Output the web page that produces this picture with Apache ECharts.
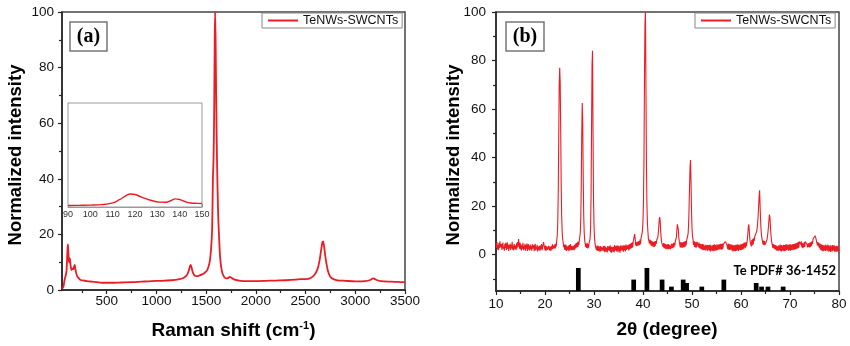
<!DOCTYPE html>
<html>
<head>
<meta charset="utf-8">
<script src="https://cdn.jsdelivr.net/npm/echarts@6/dist/echarts.min.js"></script>
<style>
  html, body { margin: 0; padding: 0; background: #fff; }
  #chart { width: 850px; height: 346px; }
</style>
</head>
<body>
<div id="chart"></div>
<script>
// ---------- (a) Raman spectrum ----------
const ramanShift = [
  50, 58, 65, 75, 88, 96, 102, 107, 110, 114, 118, 122, 128, 134, 140, 146, 155, 165, 172, 178,
  185, 195, 205, 220, 238, 270, 300, 350, 400, 450, 550, 650, 750, 850, 950, 1050, 1150, 1220, 1270, 1305,
  1325, 1338, 1345, 1355, 1370, 1385, 1400, 1430, 1460, 1480, 1505, 1520, 1535, 1550, 1560, 1568, 1574, 1580, 1586, 1590,
  1595, 1602, 1610, 1620, 1630, 1640, 1650, 1662, 1680, 1700, 1720, 1737, 1755, 1780, 1830, 1900, 2000, 2100, 2200, 2300,
  2400, 2452, 2500, 2550, 2590, 2620, 2640, 2655, 2668, 2676, 2685, 2697, 2710, 2725, 2745, 2770, 2820, 2900, 3000, 3100,
  3150, 3180, 3190, 3215, 3260, 3350, 3430, 3500
];
const ramanIntensity = [
  0.4, 0.8, 1.2, 3.5, 5.4, 7, 12, 15.5, 16.4, 13.5, 11, 10, 11.5, 9.5, 8, 7.2, 7.8, 7.5, 8.5, 9.0,
  7.4, 5.8, 4.8, 4.2, 3.6, 3.4, 3.2, 3.0, 2.8, 2.6, 2.6, 2.7, 2.8, 3.0, 3.2, 3.3, 3.5, 3.8, 4.3, 5.3,
  7, 8.6, 9.0, 7.8, 6.0, 5.2, 5.0, 5.2, 5.6, 6.0, 6.8, 8, 10, 15, 22, 40, 47, 62, 90, 100,
  90, 65, 45, 28, 19, 12, 8.5, 6.2, 4.8, 4.2, 4.3, 4.7, 4.4, 3.8, 3.4, 3.2, 3.2, 3.3, 3.4, 3.5,
  3.7, 3.9, 3.9, 4.3, 5.5, 7.5, 10.5, 14, 17, 17.5, 16, 12.5, 9.5, 6.8, 5.0, 4.1, 3.5, 3.3, 3.1, 3.2,
  3.6, 4.2, 4.1, 3.6, 3.2, 3.0, 2.9, 2.8
];
const ramanMajorTicks = [500, 1000, 1500, 2000, 2500, 3000, 3500];
const ramanMinorTicks = [250, 750, 1250, 1750, 2250, 2750, 3250];

// inset: low-wavenumber region
const insetShift = [90, 95, 100, 105, 110, 113, 116, 118, 120, 123, 127, 131, 134, 136, 138, 140, 142, 145, 148, 150];
const insetIntensity = [1.5, 1.6, 1.8, 2.3, 4.0, 7.0, 11.0, 12.5, 12.0, 9.5, 6.5, 4.7, 4.6, 6.0, 7.8, 7.2, 5.5, 3.8, 3.5, 3.4];

// ---------- (b) XRD pattern, one reading every 0.1 degree from 10 to 80 ----------
const xrdStart = 10;
const xrdStep = 0.1;
const xrdIntensity = [
  4.6, 2.8, 5.2, 2.1, 3.9, 1.8, 4.8, 2.6, 5.5, 3.0,
  2.2, 4.4, 1.9, 3.7, 5.0, 2.4, 3.3, 1.6, 4.5, 2.7,
  4.9, 1.8, 3.4, 5.1, 2.3, 4.2, 1.5, 3.9, 2.6, 4.6,
  1.9, 4.0, 2.5, 5.3, 2.0, 3.6, 1.7, 4.4, 5.0, 2.2,
  3.8, 1.9, 4.7, 2.6, 5.2, 3.3, 6.4, 4.1, 2.4, 5.0,
  2.1, 4.2, 1.7, 3.8, 2.5, 4.9, 1.8, 3.5, 2.3, 4.5,
  1.6, 3.9, 2.4, 4.6, 1.5, 3.2, 4.4, 2.0, 3.6, 1.7,
  4.1, 2.2, 3.5, 1.6, 4.3, 2.5, 1.8, 3.9, 1.4, 3.3,
  4.5, 1.7, 3.2, 2.1, 4.0, 1.3, 3.4, 4.2, 1.9, 3.6,
  1.6, 3.8, 2.2, 4.4, 1.8, 3.1, 4.0, 5.2, 5.6, 2.9,
  1.8, 3.7, 1.5, 3.4, 4.2, 2.0, 1.4, 3.6, 4.0, 1.7,
  3.3, 4.1, 1.5, 3.5, 2.1, 4.3, 2.4, 1.6, 3.8, 2.6,
  4.2, 2.5, 4.6, 3.4, 6.0, 7.8, 13, 25, 47, 70,
  77, 71, 52, 30, 16, 9.5, 6.4, 5.2, 3.1, 4.0,
  2.0, 4.3, 1.8, 3.9, 1.5, 3.4, 4.1, 1.9, 3.7, 1.4,
  3.9, 2.0, 4.4, 1.7, 3.5, 4.2, 1.9, 3.6, 4.3, 1.8,
  3.9, 2.1, 4.5, 2.6, 4.8, 3.0, 5.1, 3.2, 5.4, 3.9,
  5.6, 6.2, 9.0, 15, 28, 50, 62.5, 54, 32, 16,
  9.2, 5.8, 5.2, 3.2, 4.6, 2.8, 4.9, 2.5, 4.3, 2.9,
  4.8, 4.0, 6.5, 11, 24, 52, 78, 84, 50, 24,
  12, 7.0, 4.6, 3.5, 4.1, 1.9, 3.6, 1.6, 3.7, 1.5,
  3.4, 2.4, 1.2, 3.5, 1.4, 3.2, 3.9, 1.6, 1.1, 3.5,
  1.4, 3.6, 1.0, 3.3, 3.8, 1.2, 2.9, 0.9, 3.5, 1.7,
  0.9, 3.4, 1.5, 3.8, 1.0, 3.1, 0.8, 3.3, 3.7, 1.2,
  3.2, 0.9, 3.9, 1.6, 0.8, 3.5, 1.3, 3.8, 2.9, 1.0,
  3.6, 1.4, 3.3, 0.8, 3.7, 1.6, 1.0, 3.8, 1.7, 3.4,
  1.2, 3.9, 1.8, 3.6, 1.3, 4.1, 2.0, 1.5, 3.8, 2.2,
  4.0, 1.7, 4.3, 2.2, 4.5, 2.4, 4.8, 2.7, 5.1, 3.0,
  5.4, 4.8, 7.5, 8.5, 6.6, 3.8, 5.1, 3.5, 5.3, 3.7,
  5.4, 3.8, 5.6, 4.0, 6.2, 4.3, 6.8, 6.0, 8.6, 10,
  14, 22, 40, 72, 95, 100, 70, 38, 21, 13,
  9.5, 6.6, 7.0, 4.6, 6.2, 4.2, 5.9, 3.7, 5.6, 3.5,
  5.4, 3.3, 5.2, 3.2, 5.5, 3.6, 5.6, 4.4, 6.0, 5.8,
  7.0, 8.5, 11, 14, 15.5, 14, 10, 7.0, 5.2, 4.3,
  5.0, 3.2, 4.8, 2.6, 4.6, 2.5, 4.3, 2.2, 4.1, 2.4,
  4.2, 2.1, 4.4, 2.3, 3.9, 4.6, 2.2, 3.6, 4.5, 2.5,
  4.4, 2.8, 4.8, 3.0, 5.0, 3.8, 5.6, 5.0, 7.0, 9.5,
  12.5, 13, 10.5, 7.4, 5.4, 5.5, 3.0, 5.2, 2.9, 5.0,
  2.8, 5.1, 2.9, 5.2, 3.1, 5.4, 3.3, 5.6, 3.8, 5.8,
  5.4, 6.5, 8.5, 12, 19, 28, 36, 39, 30, 18,
  11, 7.5, 6.4, 4.0, 5.6, 3.2, 5.3, 2.9, 5.1, 3.0,
  5.3, 5.0, 5.8, 3.1, 5.0, 2.8, 4.6, 2.4, 4.3, 2.2,
  4.2, 2.0, 4.4, 1.8, 4.1, 1.9, 3.6, 1.7, 4.0, 2.1,
  3.8, 1.5, 4.0, 1.8, 1.4, 3.9, 1.6, 4.1, 1.3, 3.7,
  4.2, 1.6, 3.8, 1.4, 4.0, 1.7, 4.3, 1.5, 3.9, 4.1,
  1.7, 4.2, 1.9, 1.5, 4.1, 2.0, 4.3, 2.2, 4.5, 2.1,
  4.4, 2.0, 4.6, 2.4, 4.3, 3.9, 3.6, 4.4, 5.4, 6.0,
  5.2, 4.2, 4.8, 2.3, 4.6, 2.0, 4.4, 1.9, 4.2, 2.0,
  1.6, 4.1, 1.5, 3.9, 1.3, 3.8, 4.2, 1.5, 4.0, 1.4,
  3.9, 1.6, 4.2, 1.8, 4.1, 1.5, 4.0, 4.4, 1.9, 4.2,
  1.8, 4.3, 2.0, 4.5, 2.2, 4.7, 2.4, 5.0, 5.4, 2.8,
  5.2, 3.4, 4.9, 6.2, 8.8, 11.5, 12.5, 9.5, 6.5, 5.0,
  5.8, 3.4, 6.0, 3.8, 6.4, 4.2, 6.8, 5.6, 7.4, 6.8,
  7.4, 8.2, 9.5, 11, 13, 16, 20, 24, 26.5, 20,
  14, 10, 7.8, 6.4, 6.6, 4.2, 5.8, 3.9, 5.6, 4.0,
  4.6, 5.0, 5.6, 6.2, 7.5, 9.2, 11.5, 14, 16.5, 15.5,
  12, 8.5, 6.2, 4.8, 5.2, 2.8, 4.4, 2.5, 4.0, 2.2,
  3.9, 2.0, 3.7, 1.6, 3.5, 4.0, 1.5, 3.8, 4.2, 1.7,
  4.1, 1.5, 3.9, 1.3, 3.8, 4.2, 1.6, 4.0, 1.4, 3.9,
  1.5, 4.1, 1.7, 4.3, 1.9, 1.4, 4.0, 1.6, 4.2, 1.8,
  4.1, 1.6, 4.3, 1.9, 1.5, 4.2, 1.8, 4.4, 2.0, 4.5,
  2.1, 4.6, 2.2, 4.8, 2.4, 5.0, 2.6, 5.2, 2.8, 5.4,
  5.6, 6.0, 4.2, 5.5, 3.0, 4.8, 2.6, 4.6, 3.0, 5.2,
  3.2, 5.4, 5.8, 6.2, 4.5, 5.2, 3.0, 4.6, 3.2, 4.8,
  3.0, 5.0, 3.2, 5.2, 3.6, 5.6, 4.4, 6.4, 6.8, 7.2,
  7.4, 7.8, 7.2, 6.6, 5.6, 5.8, 3.8, 5.2, 3.4, 4.8,
  2.6, 4.6, 2.0, 4.3, 1.8, 4.1, 1.5, 3.9, 1.4, 3.8,
  4.2, 1.6, 4.0, 1.5, 3.8, 4.3, 1.7, 4.1, 1.2, 3.7,
  4.0, 1.4, 3.8, 1.1, 3.7, 4.1, 1.3, 3.9, 1.6, 1.0,
  3.8, 1.2, 3.6, 4.0, 1.1, 3.5, 3.9, 1.3, 3.7, 1.0,
  2.2
];

// Te reference pattern (PDF# 36-1452): stick positions and top levels
const pdfAngle = [26.8, 38.1, 40.8, 43.9, 45.8, 48.2, 48.9, 52.0, 56.5, 63.1, 64.2, 65.5, 68.6];
const pdfTop = [-5.5, -10.3, -5.5, -10.3, -13.2, -10.3, -11.7, -13.2, -10.3, -11.7, -13.2, -13.2, -13.2];
const pdfBase = -15;
const xrdMajorY = [0, 20, 40, 60, 80, 100];
const xrdMinorY = [-10, 10, 30, 50, 70, 90];

const seriesName = 'TeNWs-SWCNTs';
const RED = '#ec1c24';
const SANS = "'Liberation Sans', Arial, sans-serif";
const SERIF = "'Liberation Serif', 'Times New Roman', serif";

const chart = echarts.init(document.getElementById('chart'), null, { renderer: 'canvas' });

const plain = v => String(v);
const tickLabel = { color: '#111', fontSize: 13.5, fontFamily: SANS, formatter: plain };
const axisLine = { show: true, onZero: false, lineStyle: { color: '#222', width: 1.5 } };
const tickStyle = { lineStyle: { color: '#222', width: 1.2 } };

const option = {
  animation: false,
  backgroundColor: '#fff',
  grid: [
    { left: 62, top: 12, width: 343, height: 278, show: true, borderColor: '#444', borderWidth: 1.5, backgroundColor: 'transparent' },
    { left: 68, top: 103, width: 134, height: 104, show: true, borderColor: '#999', borderWidth: 1, backgroundColor: '#fff', z: 5 },
    { left: 496, top: 12, width: 343, height: 279, show: true, borderColor: '#444', borderWidth: 1.5, backgroundColor: 'transparent' }
  ],
  xAxis: [
    { // (a) main
      type: 'value', gridIndex: 0, min: 50, max: 3500, position: 'bottom',
      axisLine, splitLine: { show: false },
      axisTick: { show: true, customValues: ramanMajorTicks, length: 4, ...tickStyle },
      axisLabel: { ...tickLabel, customValues: ramanMajorTicks, margin: 4 }
    },
    { // (a) minor ticks
      type: 'value', gridIndex: 0, min: 50, max: 3500, position: 'bottom', offset: 0,
      axisLine: { show: false, onZero: false }, splitLine: { show: false },
      axisTick: { show: true, customValues: ramanMinorTicks, length: 3, ...tickStyle },
      axisLabel: { show: false }
    },
    { // inset
      type: 'value', gridIndex: 1, min: 90, max: 150, interval: 10,
      axisLine: { show: true, onZero: false, lineStyle: { color: '#999', width: 1 } },
      splitLine: { show: false },
      axisTick: { show: true, inside: true, length: 3, lineStyle: { color: '#777' } },
      minorTick: { show: true, splitNumber: 2, length: 2, lineStyle: { color: '#777' } },
      axisLabel: { color: '#333', fontSize: 9, fontFamily: SANS, margin: 3 }
    },
    { // (b)
      type: 'value', gridIndex: 2, min: 10, max: 80, interval: 10,
      axisLine, splitLine: { show: false },
      axisTick: { show: true, length: 4, ...tickStyle },
      minorTick: { show: true, splitNumber: 2, length: 3, ...tickStyle },
      axisLabel: { ...tickLabel, margin: 6 }
    }
  ],
  yAxis: [
    { // (a)
      type: 'value', gridIndex: 0, min: 0, max: 100, interval: 20,
      axisLine, splitLine: { show: false },
      axisTick: { show: true, length: 4, ...tickStyle },
      minorTick: { show: true, splitNumber: 2, length: 3, ...tickStyle },
      axisLabel: { ...tickLabel, margin: 8 }
    },
    { // inset
      type: 'value', gridIndex: 1, min: 0, max: 100,
      axisLine: { show: true, onZero: false, lineStyle: { color: '#999', width: 1 } },
      splitLine: { show: false }, axisTick: { show: false }, axisLabel: { show: false }
    },
    { // (b)
      type: 'value', gridIndex: 2, min: -15, max: 100,
      axisLine, splitLine: { show: false },
      axisTick: { show: true, customValues: xrdMajorY, length: 4, ...tickStyle },
      axisLabel: { ...tickLabel, customValues: xrdMajorY, margin: 10 }
    },
    { // (b) minor ticks
      type: 'value', gridIndex: 2, min: -15, max: 100, position: 'left', offset: 0,
      axisLine: { show: false, onZero: false }, splitLine: { show: false },
      axisTick: { show: true, customValues: xrdMinorY, length: 3, ...tickStyle },
      axisLabel: { show: false }
    }
  ],
  legend: [
    {
      data: [seriesName], left: 262, top: 13, padding: [1, 4, 1, 6],
      borderColor: '#888', borderWidth: 1, backgroundColor: '#fff',
      icon: 'rect', itemWidth: 30, itemHeight: 2,
      textStyle: { color: '#111', fontSize: 12.5, fontFamily: SANS }
    },
    {
      data: [seriesName], left: 695, top: 13, padding: [1, 4, 1, 6],
      borderColor: '#888', borderWidth: 1, backgroundColor: '#fff',
      icon: 'rect', itemWidth: 30, itemHeight: 2,
      textStyle: { color: '#111', fontSize: 12.5, fontFamily: SANS }
    }
  ],
  series: [
    {
      name: seriesName, type: 'line', xAxisIndex: 0, yAxisIndex: 0,
      data: ramanShift.map((x, i) => [x, ramanIntensity[i]]),
      showSymbol: false, smooth: 0.3, lineStyle: { color: RED, width: 1.8 }, itemStyle: { color: RED }
    },
    {
      name: 'inset', type: 'line', xAxisIndex: 2, yAxisIndex: 1, z: 6,
      data: insetShift.map((x, i) => [x, insetIntensity[i]]),
      showSymbol: false, smooth: 0.4, lineStyle: { color: RED, width: 1.4 }
    },
    {
      name: seriesName, type: 'line', xAxisIndex: 3, yAxisIndex: 2,
      data: xrdIntensity.map((v, i) => [+(xrdStart + i * xrdStep).toFixed(1), v]),
      showSymbol: false, lineStyle: { color: RED, width: 1.1 }, itemStyle: { color: RED }
    },
    {
      name: 'Te PDF# 36-1452', type: 'custom', xAxisIndex: 3, yAxisIndex: 2,
      data: pdfAngle.map((a, i) => [a, pdfTop[i]]),
      renderItem: function (params, api) {
        const a = api.value(0);
        const p0 = api.coord([a - 0.48, api.value(1)]);
        const p1 = api.coord([a + 0.48, pdfBase]);
        return {
          type: 'rect',
          shape: { x: p0[0], y: p0[1], width: p1[0] - p0[0], height: p1[1] - p0[1] },
          style: { fill: '#000' }
        };
      }
    }
  ],
  graphic: [
    { type: 'rect', shape: { x: 70, y: 22, width: 37, height: 29 }, style: { fill: '#fff', stroke: '#777', lineWidth: 1.5 }, z: 10 },
    { type: 'text', x: 88.5, y: 37, z: 11, style: { text: '(a)', font: 'bold 20px ' + SERIF, fill: '#000', align: 'center', verticalAlign: 'middle' } },
    { type: 'rect', shape: { x: 506, y: 22, width: 38, height: 29 }, style: { fill: '#fff', stroke: '#777', lineWidth: 1.5 }, z: 10 },
    { type: 'text', x: 525, y: 37, z: 11, style: { text: '(b)', font: 'bold 20px ' + SERIF, fill: '#000', align: 'center', verticalAlign: 'middle' } },
    { type: 'text', x: 16, y: 155, rotation: Math.PI / 2, z: 11,
      style: { text: 'Normalized intensity', font: 'bold 18.5px ' + SANS, fill: '#000', align: 'center', verticalAlign: 'middle' } },
    { type: 'text', x: 454, y: 155, rotation: Math.PI / 2, z: 11,
      style: { text: 'Normalized intensity', font: 'bold 18.5px ' + SANS, fill: '#000', align: 'center', verticalAlign: 'middle' } },
    { type: 'text', x: 233.5, y: 331, z: 11,
      style: {
        text: '{t|Raman shift (cm}{s|-1}{t|)}', align: 'center', verticalAlign: 'middle',
        rich: {
          t: { fontSize: 19, fontWeight: 'bold', fontFamily: SANS, fill: '#000', lineHeight: 22 },
          s: { fontSize: 11, fontWeight: 'bold', fontFamily: SANS, fill: '#000', lineHeight: 22, verticalAlign: 'top' }
        }
      } },
    { type: 'text', x: 667, y: 330, z: 11,
      style: { text: '2θ (degree)', font: 'bold 19px ' + SANS, fill: '#000', align: 'center', verticalAlign: 'middle' } },
    { type: 'text', x: 836, y: 271, z: 11,
      style: { text: 'Te PDF# 36-1452', font: 'bold 13px Lato, ' + SANS, fill: '#000', align: 'right', verticalAlign: 'middle' } }
  ]
};

chart.setOption(option);
</script>
</body>
</html>
